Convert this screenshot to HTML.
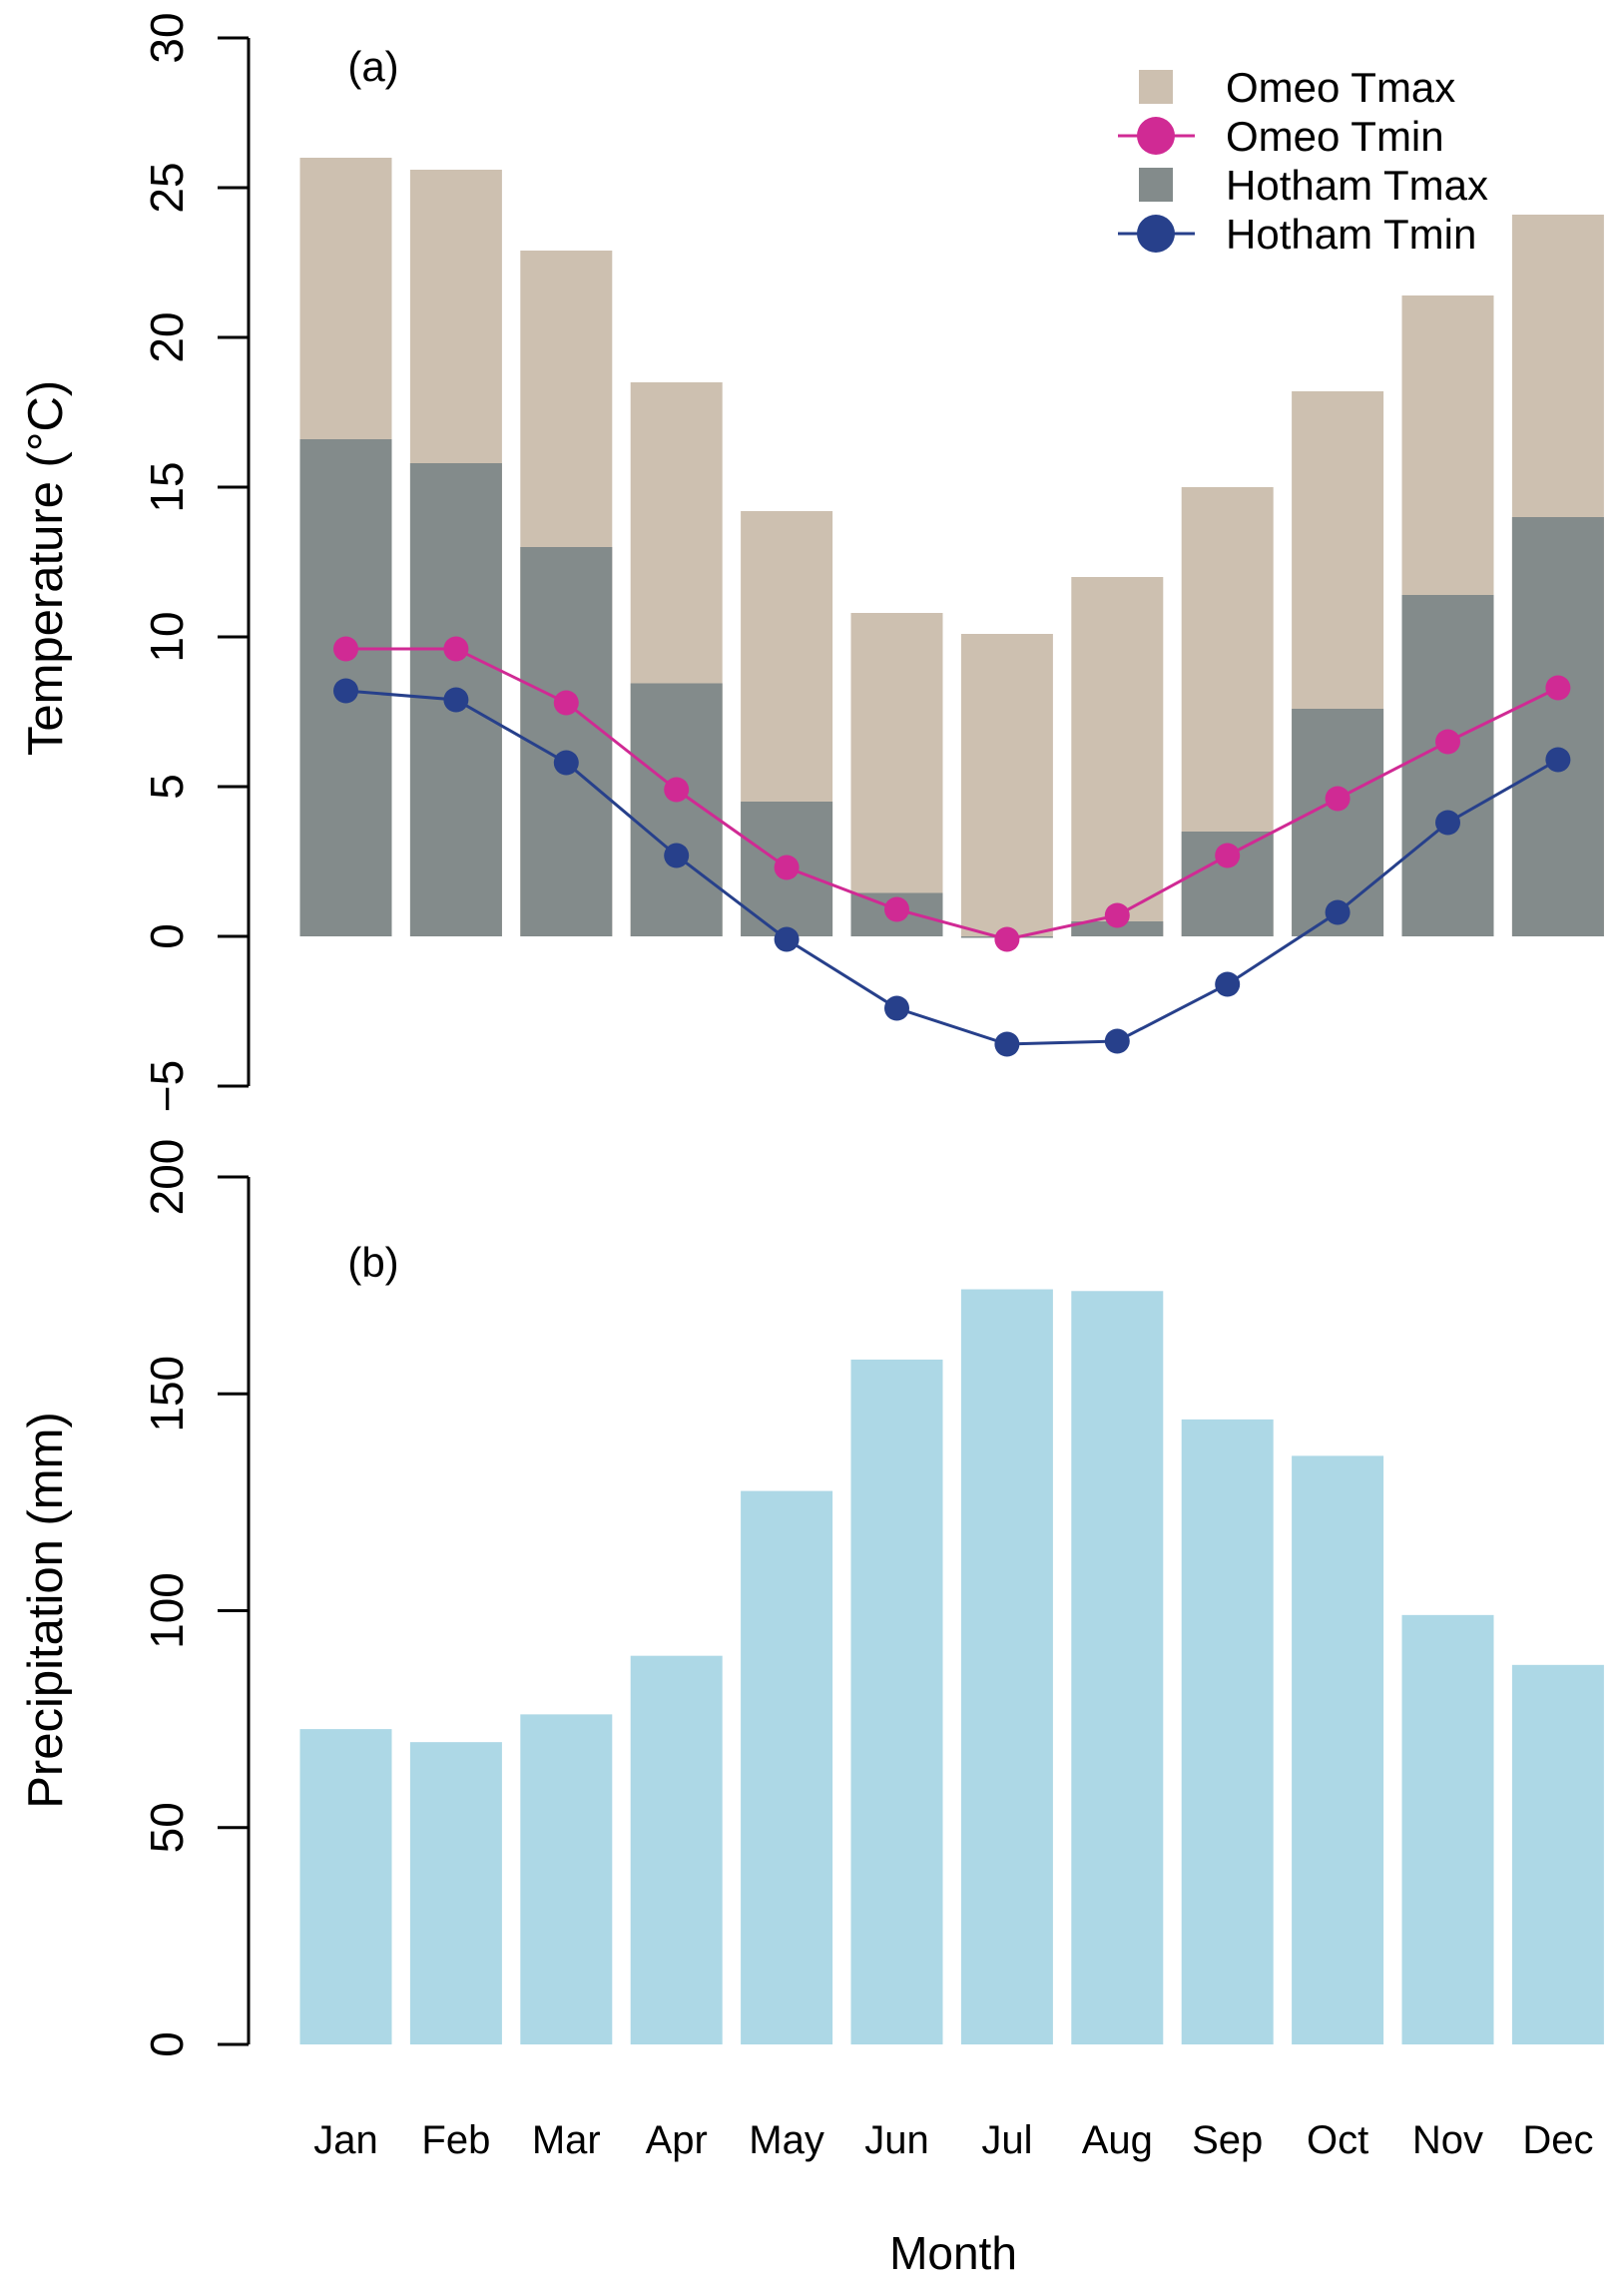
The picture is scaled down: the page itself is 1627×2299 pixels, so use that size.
<!DOCTYPE html>
<html><head><meta charset="utf-8"><style>
html,body{margin:0;padding:0;background:#fff;}
svg{display:block;font-family:"Liberation Sans",Arial,sans-serif;}
</style></head><body>
<svg id="chart" width="1627" height="2299" viewBox="0 0 1627 2299" xmlns="http://www.w3.org/2000/svg">
<g id="topPanel"></g>
<g id="botPanel"></g>
<g id="legendG"></g>
</svg>
<script>
const months = ["Jan","Feb","Mar","Apr","May","Jun","Jul","Aug","Sep","Oct","Nov","Dec"];
const omeoTmax = [26.0,25.6,22.9,18.5,14.2,10.8,10.1,12.0,15.0,18.2,21.4,24.1];
const hothamTmax = [16.6,15.8,13.0,8.45,4.5,1.45,-0.05,0.5,3.5,7.6,11.4,14.0];
const omeoTmin = [9.6,9.6,7.8,4.9,2.3,0.9,-0.1,0.7,2.7,4.6,6.5,8.3];
const hothamTmin = [8.2,7.9,5.8,2.7,-0.1,-2.4,-3.6,-3.5,-1.6,0.8,3.8,5.9];
const precip = [72.7,69.7,76.1,89.6,127.6,157.9,174.1,173.7,144.1,135.7,99.0,87.5];
const tempTicks = [-5,0,5,10,15,20,25,30];
const precipTicks = [0,50,100,150,200];

const NS="http://www.w3.org/2000/svg";
function mk(parent,tag,attrs,text){const e=document.createElementNS(NS,tag);for(const k in attrs)e.setAttribute(k,attrs[k]);if(text!==undefined)e.textContent=text;parent.appendChild(e);return e;}
const xc=i=>346.5+i*110.4;
const bw=92;
const yT=v=>938-v*30;
const yP=v=>2048-v*4.345;
const topG=document.getElementById('topPanel'), botG=document.getElementById('botPanel'), legG=document.getElementById('legendG');

omeoTmax.forEach((v,i)=>{
  const r=mk(topG,'rect',{x:xc(i)-bw/2,y:Math.min(yT(v),yT(0)),width:bw,height:Math.abs(yT(0)-yT(v)),fill:'#cdc0b0'});
  
  
});
hothamTmax.forEach((v,i)=>{
  const r=mk(topG,'rect',{x:xc(i)-bw/2,y:Math.min(yT(v),yT(0)),width:bw,height:Math.max(1,Math.abs(yT(0)-yT(v))),fill:'#838b8b'});
  
  
});
function series(arr,color,name){
  const pl=mk(topG,'polyline',{points:arr.map((v,i)=>xc(i)+','+yT(v)).join(' '),fill:'none',stroke:color,'stroke-width':3});
  
  
  arr.forEach((v,i)=>{
    const c=mk(topG,'circle',{cx:xc(i),cy:yT(v),r:12.5,fill:color});
    
    
  });
}
series(omeoTmin,'#d02a94','omeo-tmin');
series(hothamTmin,'#27408b','hotham-tmin');

let ax=mk(topG,'path',{d:`M249,${yT(30)}V${yT(-5)}`,stroke:'#000','stroke-width':3,fill:'none'});


tempTicks.forEach(t=>{
  const l=mk(topG,'path',{d:`M218,${yT(t)}H249`,stroke:'#000','stroke-width':3});
  
  
  const tx=mk(topG,'text',{x:0,y:0,transform:`translate(183,${yT(t)}) rotate(-90)`,'text-anchor':'middle','font-size':46},t<0?'\u2212'+Math.abs(t):String(t));
  
  
});
let tt=mk(topG,'text',{transform:'translate(62,569) rotate(-90)','text-anchor':'middle','font-size':49},'Temperature (°C)');


let pa=mk(topG,'text',{x:374,y:81,'text-anchor':'middle','font-size':42},'(a)');



precip.forEach((v,i)=>{
  const r=mk(botG,'rect',{x:xc(i)-bw/2,y:yP(v),width:bw,height:yP(0)-yP(v),fill:'#add8e6'});
  
  
});
ax=mk(botG,'path',{d:`M249,${yP(200)}V${yP(0)}`,stroke:'#000','stroke-width':3,fill:'none'});


precipTicks.forEach(t=>{
  const l=mk(botG,'path',{d:`M218,${yP(t)}H249`,stroke:'#000','stroke-width':3});
  
  
  const tx=mk(botG,'text',{transform:`translate(183,${yP(t)}) rotate(-90)`,'text-anchor':'middle','font-size':46},String(t));
  
  
});
months.forEach((m,i)=>{
  const tx=mk(botG,'text',{x:xc(i),y:2157,'text-anchor':'middle','font-size':40},m);
  
  
});
let pt=mk(botG,'text',{transform:'translate(62,1613) rotate(-90)','text-anchor':'middle','font-size':49},'Precipitation (mm)');


let mt=mk(botG,'text',{x:955,y:2273,'text-anchor':'middle','font-size':46},'Month');


let pb=mk(botG,'text',{x:374,y:1279,'text-anchor':'middle','font-size':42},'(b)');



const legLabels=["Omeo Tmax","Omeo Tmin","Hotham Tmax","Hotham Tmin"];
const legColors=["#cdc0b0","#d02a94","#838b8b","#27408b"];
const legY=[87,136,185,234];
legLabels.forEach((lab,i)=>{
  const g=mk(legG,'g',{});
  
  
  if(i%2===0){mk(g,'rect',{x:1141,y:legY[i]-17,width:34,height:34,fill:legColors[i]});}
  else{mk(g,'path',{d:`M1120,${legY[i]}H1197`,stroke:legColors[i],'stroke-width':3});mk(g,'circle',{cx:1158,cy:legY[i],r:19,fill:legColors[i]});}
  mk(g,'text',{x:1228,y:legY[i]+15,'font-size':42},lab);
});
</script>
</body></html>
